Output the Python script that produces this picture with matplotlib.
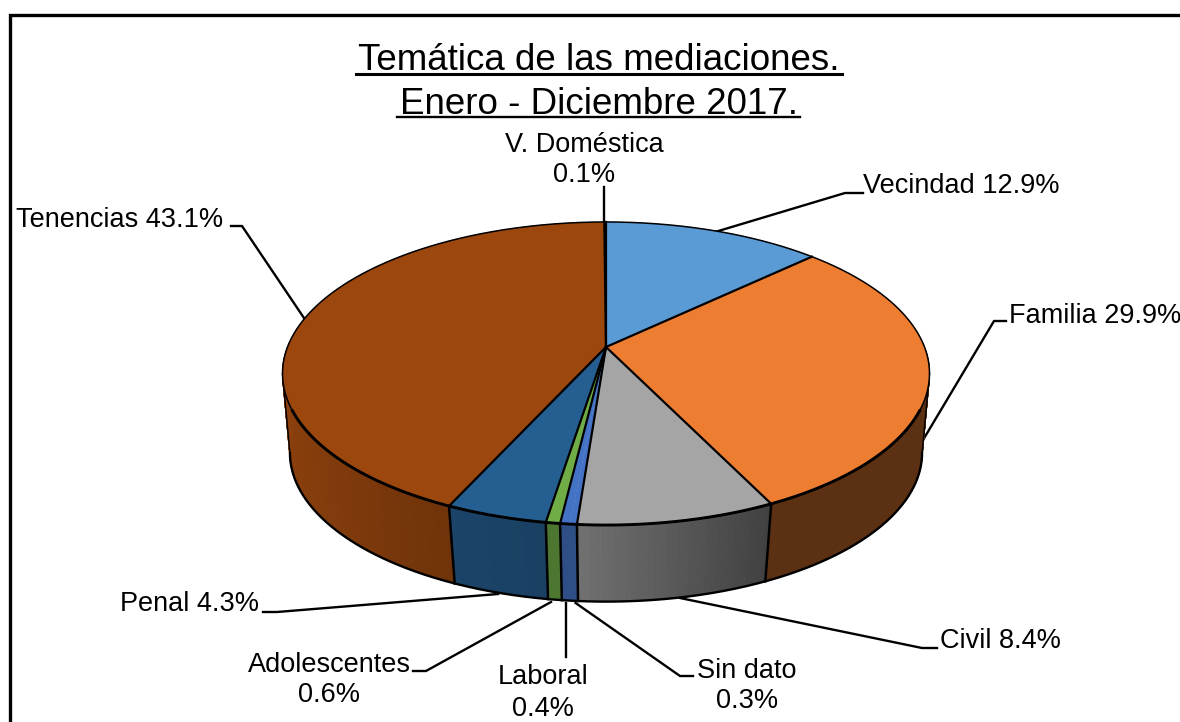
import numpy as np
import matplotlib
matplotlib.use("Agg")
import matplotlib.pyplot as plt

plt.rcParams['font.family'] = ['Liberation Sans', 'DejaVu Sans']

# --- data ---
categories = ["Vecindad", "Familia", "Civil", "Sin dato", "Laboral",
              "Adolescentes", "Penal", "Tenencias", "V. Doméstica"]
values = [12.9, 29.9, 8.4, 0.3, 0.4, 0.6, 4.3, 43.1, 0.1]
colors = ["#5B9BD5", "#ED7D31", "#A5A5A5", "#4472C4", "#4472C4",
          "#70AD47", "#255E91", "#9B470E", "#636363"]
title_lines = ["Temática de las mediaciones.", "Enero - Diciembre 2017."]

# --- perspective model of the pie in pixel space ---
CX = 606
TOP = dict(cy=347, a=318.5, b=146.9, k=0.175)
BOT = dict(cy=429, a=312, b=145.0, k=0.16)


def project(theta, p):
    X, Y = np.sin(theta), np.cos(theta)
    d = 1 + p['k'] * Y
    return CX + p['a'] * X / d, p['cy'] - p['b'] * Y / d


def shade(theta):
    X = np.sin(theta)
    return np.interp(X, [-1, -0.42, -0.07, 0.44, 1], [0.90, 0.72, 0.68, 0.39, 0.39])


def darker(c, f):
    return tuple(np.array(matplotlib.colors.to_rgb(c)) * f)


fig = plt.figure(figsize=(11.8, 7.22), dpi=100)
ax = fig.add_axes([0, 0, 1, 1])
ax.set_xlim(0, 1180)
ax.set_ylim(722, 0)
ax.axis('off')

edges = 2 * np.pi * np.concatenate([[0], np.cumsum(values)]) / np.sum(values)
# boundaries between two differently coloured slices get a drawn line
drawn = [i for i in range(len(edges) - 1) if colors[i] != colors[i - 1]]

# side wall: front part of the rim
VIS_A, VIS_B = np.radians(88), np.radians(272)
for i, col in enumerate(colors):
    a0, a1 = max(edges[i], VIS_A), min(edges[i + 1], VIS_B)
    if a1 <= a0:
        continue
    th = np.linspace(a0, a1, max(int((a1 - a0) / 0.015), 2))
    for t0, t1 in zip(th[:-1], th[1:]):
        tt = np.array([t0, t1])
        xt, yt = project(tt, TOP)
        xb, yb = project(tt, BOT)
        fc = darker(col, shade((t0 + t1) / 2))
        ax.fill(np.r_[xt, xb[::-1]], np.r_[yt, yb[::-1]], facecolor=fc,
                edgecolor=fc, lw=0.8, zorder=2)

# rim outline and seams
th = np.linspace(np.pi/2 + 0.161, 3*np.pi/2 - 0.161, 500)
xb, yb = project(th, BOT)
ax.plot(xb, yb, color='black', lw=1.7, zorder=3)
for i in drawn:
    e = edges[i]
    if VIS_A < e < VIS_B:
        xt, yt = project(np.array([e]), TOP)
        xb, yb = project(np.array([e]), BOT)
        ax.plot([xt[0], xb[0]], [yt[0], yb[0]], color='black', lw=1.8, zorder=3)
# silhouettes
for t_top, t_bot in ((np.pi/2 + 0.176, np.pi/2 + 0.161), (3*np.pi/2 - 0.176, 3*np.pi/2 - 0.161)):
    xt, yt = project(np.array([t_top]), TOP)
    xb, yb = project(np.array([t_bot]), BOT)
    ax.plot([xt[0], xb[0]], [yt[0], yb[0]], color='black', lw=1.0, zorder=3)

# top face
for i, col in enumerate(colors):
    th = np.linspace(edges[i], edges[i + 1], max(int((edges[i + 1] - edges[i]) / 0.01), 2))
    x, y = project(th, TOP)
    ax.fill(np.r_[CX, x], np.r_[TOP['cy'], y], facecolor=col, edgecolor=col,
            lw=0.3, zorder=4)
for i in drawn:
    x, y = project(np.array([edges[i]]), TOP)
    ax.plot([CX, x[0]], [TOP['cy'], y[0]], color='black', lw=1.6, zorder=5)
th = np.linspace(0, 2 * np.pi, 800)
x, y = project(th, TOP)
ax.plot(x, y, color='black', lw=1.1, zorder=5)
th = np.linspace(VIS_A + 0.45, VIS_B - 0.45, 300)
x, y = project(th, TOP)
ax.plot(x, y, color='black', lw=2.1, zorder=5)

# frame (top and left only reach the image edge)
ax.plot([9.5, 9.5, 1180], [722, 15, 15], color='black', lw=2.4, zorder=6,
        solid_joinstyle='miter')

# title
ax.text(599, 60, title_lines[0], ha='center', va='center', fontsize=26.5, color='black')
ax.text(599, 104, title_lines[1], ha='center', va='center', fontsize=26.5, color='black')
ax.plot([356, 842], [74, 74], color='black', lw=2.2)
ax.plot([397, 800], [117, 117], color='black', lw=1.7)

# labels: (text, x, y, ha)
lab = dict(fontsize=19.5, color='black', va='center')
ml = dict(linespacing=1.25)
ax.text(584, 160, "V. Doméstica\n0.1%", ha='center', **lab, **ml)
ax.text(863, 186, "Vecindad 12.9%", ha='left', **lab)
ax.text(1009, 316, "Familia 29.9%", ha='left', **lab)
ax.text(16, 220, "Tenencias 43.1%", ha='left', **lab)
ax.text(120, 604, "Penal 4.3%", ha='left', **lab)
ax.text(329, 680, "Adolescentes\n0.6%", ha='center', **lab, **ml)
ax.text(543, 693, "Laboral\n0.4%", ha='center', **lab, **ml)
ax.text(747, 686, "Sin dato\n0.3%", ha='center', **lab, **ml)
ax.text(940, 641, "Civil 8.4%", ha='left', **lab)

# leader lines
leaders = [
    ([863, 845, 715], [193, 193, 232]),
    ([1006, 994, 923], [321, 321, 440]),
    ([231, 242, 304], [226, 226, 318]),
    ([603.6, 603.6], [187, 223]),
    ([263, 277, 498], [612, 612, 594]),
    ([413, 426, 551], [671, 671, 602]),
    ([566, 566], [603, 657]),
    ([575.6, 680, 693], [603, 676, 676]),
    ([680, 922, 937], [598, 648, 648]),
]
for lx, ly in leaders:
    ax.plot(lx, ly, color='black', lw=1.7, zorder=1)

fig.savefig("out.png", dpi=100, facecolor='white')
